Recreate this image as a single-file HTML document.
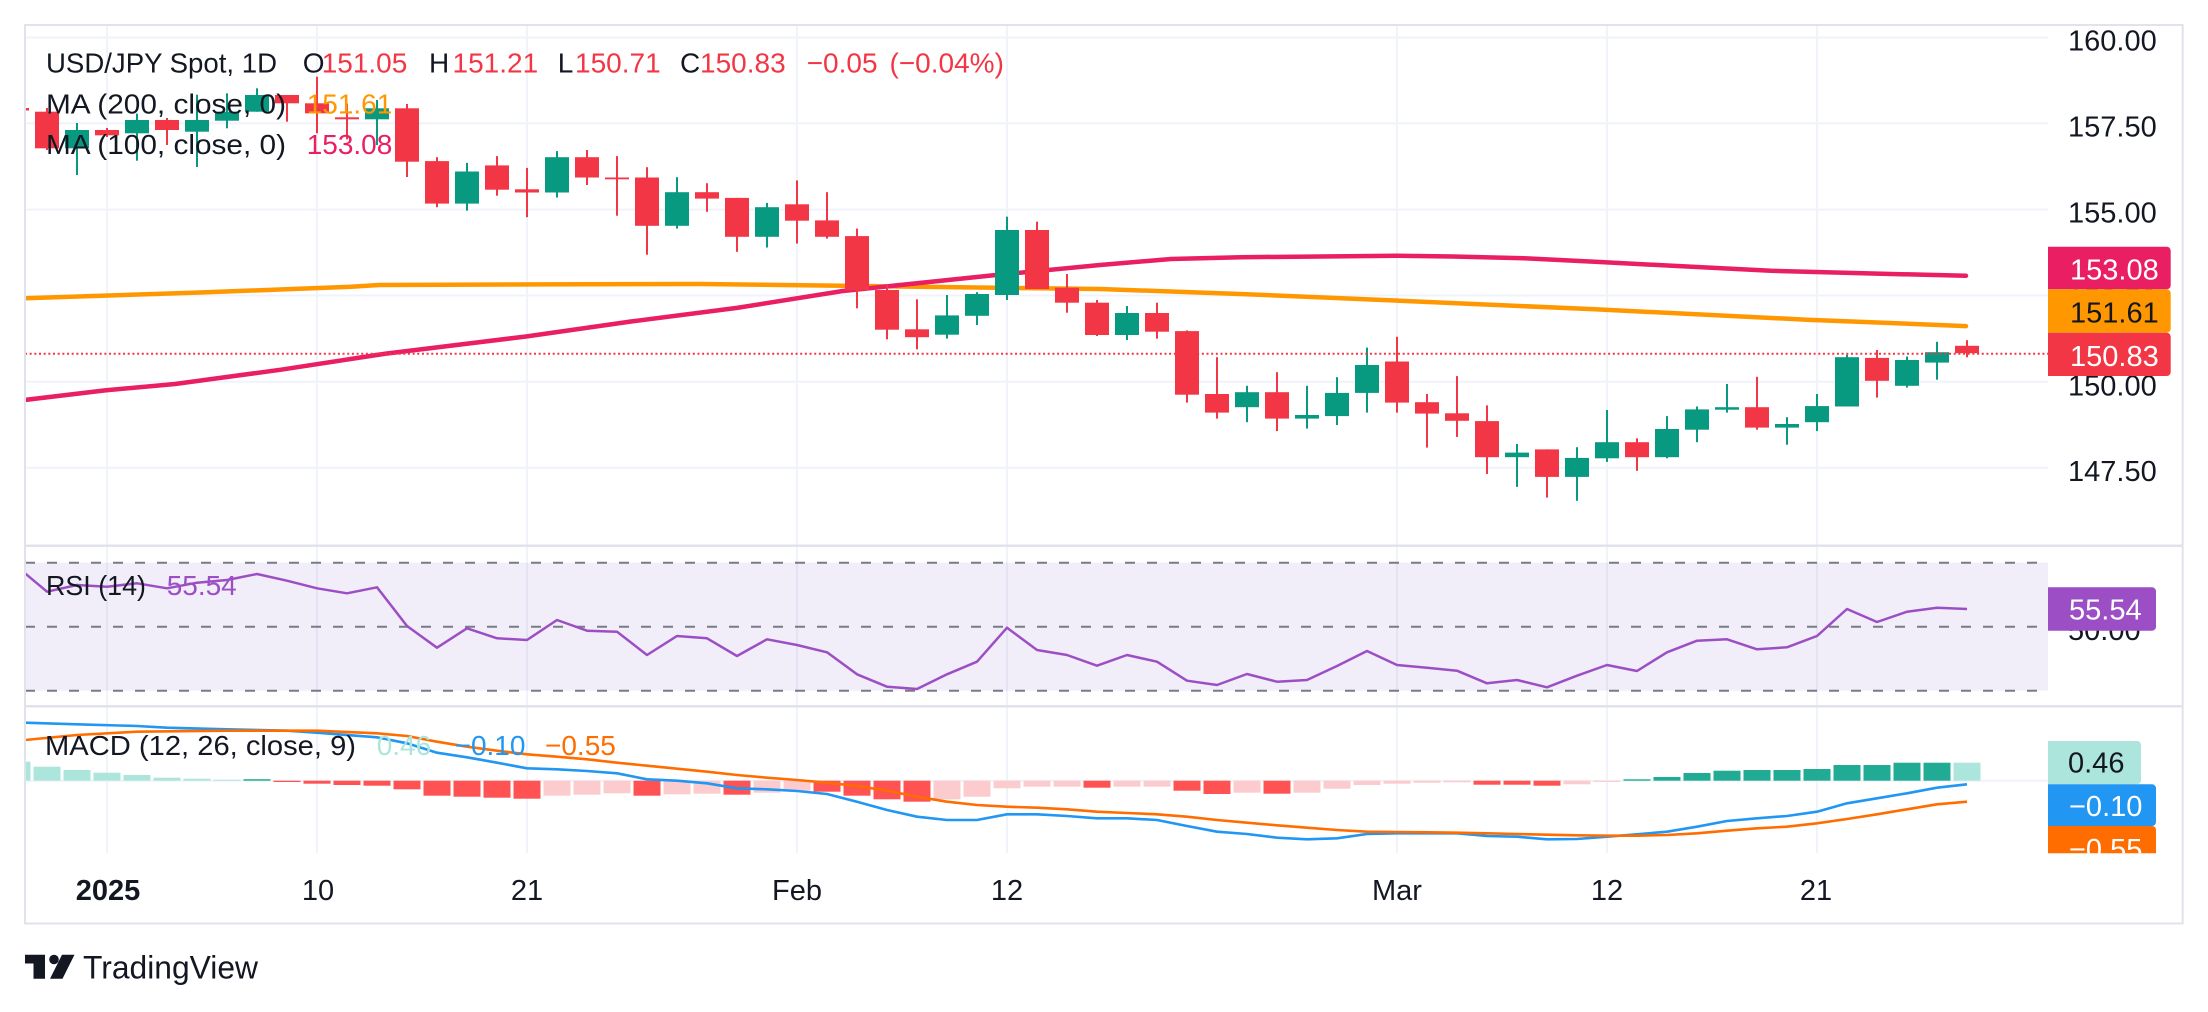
<!DOCTYPE html>
<html>
<head>
<meta charset="utf-8">
<style>
  html,body{margin:0;padding:0;background:#ffffff;}
  svg{display:block;}
  text{font-family:"Liberation Sans",sans-serif;}
</style>
</head>
<body>
<svg width="2208" height="1012" viewBox="0 0 2208 1012" xmlns="http://www.w3.org/2000/svg">
  <defs>
    <clipPath id="mainClip"><rect x="25" y="26" width="2023" height="519"/></clipPath>
    <clipPath id="rsiClip"><rect x="25" y="547" width="2023" height="158"/></clipPath>
    <clipPath id="macdClip"><rect x="25" y="707" width="2023" height="146.3"/></clipPath>
    <clipPath id="macdAxisClip"><rect x="2040" y="707" width="160" height="146.3"/></clipPath>
  </defs>

  <rect x="0" y="0" width="2208" height="1012" fill="#ffffff"/>

  <!-- vertical grid -->
  <g stroke="#f0f3fa" stroke-width="2">
    <line x1="107" y1="26" x2="107" y2="853"/>
    <line x1="317" y1="26" x2="317" y2="853"/>
    <line x1="527" y1="26" x2="527" y2="853"/>
    <line x1="797" y1="26" x2="797" y2="853"/>
    <line x1="1007" y1="26" x2="1007" y2="853"/>
    <line x1="1397" y1="26" x2="1397" y2="853"/>
    <line x1="1607" y1="26" x2="1607" y2="853"/>
    <line x1="1817" y1="26" x2="1817" y2="853"/>
  </g>
  <!-- horizontal grid main -->
  <g stroke="#f0f3fa" stroke-width="2">
    <line x1="25" y1="37.5" x2="2048" y2="37.5"/>
    <line x1="25" y1="123.3" x2="2048" y2="123.3"/>
    <line x1="25" y1="209.6" x2="2048" y2="209.6"/>
    <line x1="25" y1="295.5" x2="2048" y2="295.5"/>
    <line x1="25" y1="381.7" x2="2048" y2="381.7"/>
    <line x1="25" y1="467.8" x2="2048" y2="467.8"/>
    <line x1="25" y1="780.7" x2="2048" y2="780.7"/>
  </g>

  <!-- MAIN PANE -->
  <g clip-path="url(#mainClip)">
    <polyline fill="none" stroke="#ff9800" stroke-width="4.5" stroke-linejoin="round" stroke-linecap="round"
      points="24,298.3 200,292.5 351,286.8 379,285 540,284.4 701,284 842,285.8 1100,289 1240,294 1383,300 1595,309.3 1807,319.7 1966,326.1"/>
    <polyline fill="none" stroke="#e91e63" stroke-width="4.5" stroke-linejoin="round" stroke-linecap="round"
      points="24.5,400 105,390.4 175,384 281,369.7 386,353.6 526,336.5 631,321.5 737,307.9 842,291.1 996,275 1100,265 1171,259 1241,257.2 1397,255.8 1453,256.5 1524,258.3 1595,261.8 1665,265.4 1771,270.8 1877,273.6 1966,275.8"/>

    <!-- green candles -->
    <g fill="#089981">
      <rect x="65" y="130" width="24" height="18.3"/><rect x="76" y="123" width="2" height="52"/>
      <rect x="125" y="120" width="24" height="13.3"/><rect x="136" y="113.6" width="2" height="47.1"/>
      <rect x="185" y="120" width="24" height="11.7"/><rect x="196" y="94.7" width="2" height="72.3"/>
      <rect x="215" y="111.7" width="24" height="9"/><rect x="226" y="93.3" width="2" height="35"/>
      <rect x="245" y="95" width="24" height="16.7"/><rect x="256" y="88.3" width="2" height="23.4"/>
      <rect x="365" y="108.3" width="24" height="11"/><rect x="376" y="100" width="2" height="45"/>
      <rect x="455" y="171.5" width="24" height="32.1"/><rect x="466" y="162.9" width="2" height="47.8"/>
      <rect x="545" y="157.2" width="24" height="35.3"/><rect x="556" y="151.1" width="2" height="46.4"/>
      <rect x="665" y="192.2" width="24" height="33.6"/><rect x="676" y="177.2" width="2" height="51.4"/>
      <rect x="755" y="207.2" width="24" height="29.6"/><rect x="766" y="202.9" width="2" height="44.6"/>
      <rect x="935" y="315.4" width="24" height="19.3"/><rect x="946" y="295" width="2" height="43.6"/>
      <rect x="965" y="294" width="24" height="21.8"/><rect x="976" y="292.2" width="2" height="32.8"/>
      <rect x="995" y="230" width="24" height="65"/><rect x="1006" y="216.7" width="2" height="83.3"/>
      <rect x="1115" y="313" width="24" height="22"/><rect x="1126" y="306" width="2" height="34"/>
      <rect x="1235" y="392.2" width="24" height="15"/><rect x="1246" y="385.8" width="2" height="36.4"/>
      <rect x="1295" y="415" width="24" height="3.6"/><rect x="1306" y="385.8" width="2" height="42.8"/>
      <rect x="1325" y="392.9" width="24" height="23.2"/><rect x="1336" y="377.2" width="2" height="47.8"/>
      <rect x="1355" y="365" width="24" height="27.9"/><rect x="1366" y="347.6" width="2" height="65"/>
      <rect x="1505" y="452.6" width="24" height="4.6"/><rect x="1516" y="444" width="2" height="42.9"/>
      <rect x="1565" y="457.9" width="24" height="19"/><rect x="1576" y="447.2" width="2" height="53.6"/>
      <rect x="1595" y="442.2" width="24" height="16.1"/><rect x="1606" y="410" width="2" height="51.9"/>
      <rect x="1655" y="429" width="24" height="28.2"/><rect x="1666" y="416.1" width="2" height="42.2"/>
      <rect x="1685" y="409.4" width="24" height="20.3"/><rect x="1696" y="406.5" width="2" height="35.7"/>
      <rect x="1715" y="407.2" width="24" height="2.5"/><rect x="1726" y="384" width="2" height="28.6"/>
      <rect x="1775" y="424" width="24" height="3.6"/><rect x="1786" y="417.2" width="2" height="27.5"/>
      <rect x="1805" y="406.1" width="24" height="16.1"/><rect x="1816" y="394" width="2" height="37.1"/>
      <rect x="1835" y="357.2" width="24" height="49.3"/><rect x="1846" y="354.7" width="2" height="51.8"/>
      <rect x="1895" y="360" width="24" height="25.8"/><rect x="1906" y="356.5" width="2" height="31.1"/>
      <rect x="1925" y="352.2" width="24" height="10.4"/><rect x="1936" y="341.8" width="2" height="37.9"/>
    </g>
    <!-- red candles -->
    <g fill="#f23645">
      <rect x="5" y="108" width="24" height="2.5"/>
      <rect x="35" y="111.7" width="24" height="36.6"/><rect x="46" y="108" width="2" height="42"/>
      <rect x="95" y="130" width="24" height="5.3"/><rect x="106" y="128" width="2" height="9"/>
      <rect x="155" y="120" width="24" height="10"/><rect x="166" y="118" width="2" height="27"/>
      <rect x="275" y="95" width="24" height="8.3"/><rect x="286" y="95" width="2" height="26.7"/>
      <rect x="305" y="103.3" width="24" height="10"/><rect x="316" y="76.7" width="2" height="56.6"/>
      <rect x="335" y="117.3" width="24" height="2"/><rect x="346" y="103.6" width="2" height="35.7"/>
      <rect x="395" y="108.3" width="24" height="53.4"/><rect x="406" y="104" width="2" height="73"/>
      <rect x="425" y="161.1" width="24" height="42.5"/><rect x="436" y="157.2" width="2" height="50"/>
      <rect x="485" y="165.4" width="24" height="24.3"/><rect x="496" y="156.1" width="2" height="39.6"/>
      <rect x="515" y="189.3" width="24" height="3.2"/><rect x="526" y="167.9" width="2" height="49.3"/>
      <rect x="575" y="157.2" width="24" height="20.3"/><rect x="586" y="150" width="2" height="35"/>
      <rect x="605" y="177.5" width="24" height="1.8"/><rect x="616" y="156.1" width="2" height="59.6"/>
      <rect x="635" y="177.5" width="24" height="48.3"/><rect x="646" y="167.2" width="2" height="87.5"/>
      <rect x="695" y="192.2" width="24" height="6.4"/><rect x="706" y="183.2" width="2" height="28.6"/>
      <rect x="725" y="197.9" width="24" height="38.9"/><rect x="736" y="197.9" width="2" height="53.9"/>
      <rect x="785" y="204.3" width="24" height="16.4"/><rect x="796" y="180.4" width="2" height="63.2"/>
      <rect x="815" y="220.4" width="24" height="16.4"/><rect x="826" y="192.2" width="2" height="46.4"/>
      <rect x="845" y="236.1" width="24" height="54.3"/><rect x="856" y="228.6" width="2" height="79.7"/>
      <rect x="875" y="290" width="24" height="39.7"/><rect x="886" y="284" width="2" height="55.3"/>
      <rect x="905" y="329.3" width="24" height="7.9"/><rect x="916" y="299.3" width="2" height="50"/>
      <rect x="1025" y="230" width="24" height="59"/><rect x="1036" y="221.7" width="2" height="67.3"/>
      <rect x="1055" y="287.7" width="24" height="15"/><rect x="1066" y="274" width="2" height="38.7"/>
      <rect x="1085" y="302.7" width="24" height="32.3"/><rect x="1096" y="300" width="2" height="36"/>
      <rect x="1145" y="313" width="24" height="18.7"/><rect x="1156" y="302.7" width="2" height="36"/>
      <rect x="1175" y="331.1" width="24" height="63.6"/><rect x="1186" y="330.4" width="2" height="72.2"/>
      <rect x="1205" y="394" width="24" height="18.6"/><rect x="1216" y="357.2" width="2" height="61.4"/>
      <rect x="1265" y="392.2" width="24" height="26.4"/><rect x="1276" y="372.2" width="2" height="58.9"/>
      <rect x="1385" y="361.5" width="24" height="41.1"/><rect x="1396" y="336.8" width="2" height="75.8"/>
      <rect x="1415" y="402.2" width="24" height="11.4"/><rect x="1426" y="394" width="2" height="53.6"/>
      <rect x="1445" y="413.3" width="24" height="7.5"/><rect x="1456" y="376.1" width="2" height="60.8"/>
      <rect x="1475" y="421.1" width="24" height="36.1"/><rect x="1486" y="405.4" width="2" height="68.6"/>
      <rect x="1535" y="449.4" width="24" height="27.5"/><rect x="1546" y="449.4" width="2" height="48.2"/>
      <rect x="1625" y="442.2" width="24" height="15"/><rect x="1636" y="438.3" width="2" height="32.5"/>
      <rect x="1745" y="407.2" width="24" height="20.4"/><rect x="1756" y="376.8" width="2" height="52.9"/>
      <rect x="1865" y="357.9" width="24" height="22.9"/><rect x="1876" y="350" width="2" height="47.6"/>
      <rect x="1955" y="345.8" width="24" height="7.4"/><rect x="1966" y="340.2" width="2" height="17.1"/>
    </g>
    <!-- last price dotted line -->
    <line x1="25" y1="353.8" x2="2048" y2="353.8" stroke="#f23645" stroke-width="2" stroke-dasharray="2 2.67"/>
  </g>

  <!-- RSI PANE -->
  <rect x="25" y="562.7" width="2023" height="128" fill="#7e57c2" fill-opacity="0.1"/>
  <g stroke="#787b86" stroke-width="2" stroke-dasharray="10 12">
    <line x1="25" y1="562.7" x2="2048" y2="562.7"/>
    <line x1="25" y1="626.7" x2="2048" y2="626.7"/>
    <line x1="25" y1="690.7" x2="2048" y2="690.7"/>
  </g>
  <g clip-path="url(#rsiClip)">
    <polyline fill="none" stroke="#9c4fc4" stroke-width="2.5" stroke-linejoin="round"
      points="25,573.3 47,591.7 77,585 107,586.7 137,583.3 167,588.3 197,582.7 227,580 257,574 287,580.7 317,588.3 347,593.3 377,587.3 407,626 437,647.7 467,628.3 497,638.3 527,640 557,620 587,630.7 617,631.7 647,655 677,636 707,638.3 737,656 767,639.3 797,645 827,652.3 857,674.3 887,686.7 917,689 947,674.3 977,661.7 1007,627.7 1037,650 1067,655 1097,665.7 1127,655 1157,661.7 1187,680.7 1217,685 1247,674 1277,681.7 1307,680 1337,666 1367,651 1397,665 1427,667.7 1457,670.7 1487,683.3 1517,680 1547,687.3 1577,675.7 1607,665 1637,671 1667,652.3 1697,640.7 1727,639.3 1757,649.3 1787,647.3 1817,636 1847,609 1877,622 1907,611.7 1937,607.7 1967,609"/>
  </g>

  <!-- MACD PANE -->
  <g clip-path="url(#macdClip)">
    <!-- histogram -->
    <g fill="#ace5dc">
      <rect x="3.5" y="761.7" width="27" height="19"/>
      <rect x="33.5" y="766.7" width="27" height="14"/>
      <rect x="63.5" y="770" width="27" height="10.7"/>
      <rect x="93.5" y="772.7" width="27" height="8"/>
      <rect x="123.5" y="775" width="27" height="5.7"/>
      <rect x="153.5" y="777.7" width="27" height="3"/>
      <rect x="183.5" y="778.7" width="27" height="2"/>
      <rect x="213.5" y="779.7" width="27" height="1"/>
      <rect x="1953.5" y="762.7" width="27" height="18"/>
    </g>
    <g fill="#22ab94">
      <rect x="243.5" y="779.2" width="27" height="1.5"/>
      <rect x="1623.5" y="779.3" width="27" height="1.4"/>
      <rect x="1653.5" y="777" width="27" height="3.7"/>
      <rect x="1683.5" y="773" width="27" height="7.7"/>
      <rect x="1713.5" y="770.7" width="27" height="10"/>
      <rect x="1743.5" y="770" width="27" height="10.7"/>
      <rect x="1773.5" y="770" width="27" height="10.7"/>
      <rect x="1803.5" y="769" width="27" height="11.7"/>
      <rect x="1833.5" y="765" width="27" height="15.7"/>
      <rect x="1863.5" y="765" width="27" height="15.7"/>
      <rect x="1893.5" y="762.7" width="27" height="18"/>
      <rect x="1923.5" y="762.7" width="27" height="18"/>
    </g>
    <g fill="#ff5252">
      <rect x="273.5" y="780.7" width="27" height="1.3"/>
      <rect x="303.5" y="780.7" width="27" height="3"/>
      <rect x="333.5" y="780.7" width="27" height="4.3"/>
      <rect x="363.5" y="780.7" width="27" height="5"/>
      <rect x="393.5" y="780.7" width="27" height="8.6"/>
      <rect x="423.5" y="780.7" width="27" height="15"/>
      <rect x="453.5" y="780.7" width="27" height="16"/>
      <rect x="483.5" y="780.7" width="27" height="17"/>
      <rect x="513.5" y="780.7" width="27" height="18"/>
      <rect x="633.5" y="780.7" width="27" height="15"/>
      <rect x="723.5" y="780.7" width="27" height="14"/>
      <rect x="813.5" y="780.7" width="27" height="11"/>
      <rect x="843.5" y="780.7" width="27" height="15"/>
      <rect x="873.5" y="780.7" width="27" height="18.6"/>
      <rect x="903.5" y="780.7" width="27" height="21"/>
      <rect x="1083.5" y="780.7" width="27" height="7"/>
      <rect x="1173.5" y="780.7" width="27" height="10"/>
      <rect x="1203.5" y="780.7" width="27" height="13.3"/>
      <rect x="1263.5" y="780.7" width="27" height="13"/>
      <rect x="1473.5" y="780.7" width="27" height="4"/>
      <rect x="1503.5" y="780.7" width="27" height="4"/>
      <rect x="1533.5" y="780.7" width="27" height="5"/>
    </g>
    <g fill="#fccbcd">
      <rect x="543.5" y="780.7" width="27" height="15"/>
      <rect x="573.5" y="780.7" width="27" height="14"/>
      <rect x="603.5" y="780.7" width="27" height="12.6"/>
      <rect x="663.5" y="780.7" width="27" height="13.6"/>
      <rect x="693.5" y="780.7" width="27" height="13"/>
      <rect x="753.5" y="780.7" width="27" height="12"/>
      <rect x="783.5" y="780.7" width="27" height="10"/>
      <rect x="933.5" y="780.7" width="27" height="18.6"/>
      <rect x="963.5" y="780.7" width="27" height="16"/>
      <rect x="993.5" y="780.7" width="27" height="7.6"/>
      <rect x="1023.5" y="780.7" width="27" height="6"/>
      <rect x="1053.5" y="780.7" width="27" height="6"/>
      <rect x="1113.5" y="780.7" width="27" height="6"/>
      <rect x="1143.5" y="780.7" width="27" height="6"/>
      <rect x="1233.5" y="780.7" width="27" height="12"/>
      <rect x="1293.5" y="780.7" width="27" height="12"/>
      <rect x="1323.5" y="780.7" width="27" height="8"/>
      <rect x="1353.5" y="780.7" width="27" height="4.3"/>
      <rect x="1383.5" y="780.7" width="27" height="3"/>
      <rect x="1413.5" y="780.7" width="27" height="2"/>
      <rect x="1443.5" y="780.7" width="27" height="1.6"/>
      <rect x="1563.5" y="780.7" width="27" height="3.6"/>
      <rect x="1593.5" y="780.7" width="27" height="1.2"/>
    </g>
    <!-- MACD line -->
    <polyline fill="none" stroke="#2196f3" stroke-width="2.6" stroke-linejoin="round"
      points="25,722.7 77,724.3 137,726 167,727.7 227,729.3 287,730.7 317,732.7 377,737.3 407,743.3 437,752.7 467,757.3 497,762.7 527,768.3 557,769.3 587,771 617,773.3 647,779.3 677,780.7 707,783.3 737,788.3 767,789.3 797,791 827,794 857,801.7 887,810 917,816.7 947,820 977,820 1007,814.3 1037,814.3 1067,816 1097,818.3 1127,818.3 1157,820 1187,826 1217,831.7 1247,834 1277,837.7 1307,839.3 1337,838.3 1367,834 1397,833.3 1427,833.3 1457,833.3 1487,836 1517,836.7 1547,839.3 1577,839 1607,836.7 1637,834.3 1667,831.7 1697,826.7 1727,821 1757,818.3 1787,816 1817,811.7 1847,803.3 1877,798.3 1907,793.3 1937,787.7 1967,784.3"/>
    <!-- Signal line -->
    <polyline fill="none" stroke="#ff6d00" stroke-width="2.6" stroke-linejoin="round"
      points="25,740 77,735 137,731.7 227,730.7 317,730.7 377,733.3 407,736 437,741.7 467,746.7 497,750.7 527,754.3 557,756.7 587,759.3 617,762.7 647,765.7 677,768.7 707,771.7 737,775 767,777.7 797,780 827,782.7 857,786 887,790.7 917,796.7 947,801.7 977,805 1007,806.7 1037,807.7 1067,809.3 1097,811.7 1127,813 1157,814.3 1187,816.7 1217,820 1247,822.7 1277,825.3 1307,827.7 1337,830 1367,831.7 1397,832 1427,832.3 1457,832.7 1487,833.3 1517,834 1547,834.7 1577,835.3 1607,835.7 1637,835.7 1667,835 1697,833.3 1727,830.7 1757,828.3 1787,826.7 1817,823.3 1847,819 1877,814.3 1907,809.3 1937,804.3 1967,801.7"/>
  </g>

  <!-- pane separators and border -->
  <g stroke="#e0e3eb" stroke-width="2.5">
    <line x1="25" y1="545.7" x2="2183" y2="545.7"/>
    <line x1="25" y1="706.3" x2="2183" y2="706.3"/>
  </g>
  <rect x="25" y="25" width="2157.7" height="898.5" fill="none" stroke="#e0e3eb" stroke-width="2"/>

  <!-- legends -->
  <g font-size="28" fill="#131722">
    <text x="46" y="72.7" textLength="231" lengthAdjust="spacingAndGlyphs">USD/JPY Spot, 1D</text>
    <text x="302.7" y="72.7">O</text>
    <text x="321.7" y="72.7" fill="#f23645">151.05</text>
    <text x="429" y="72.7">H</text>
    <text x="452.5" y="72.7" fill="#f23645">151.21</text>
    <text x="557.7" y="72.7">L</text>
    <text x="575" y="72.7" fill="#f23645">150.71</text>
    <text x="680" y="72.7">C</text>
    <text x="700" y="72.7" fill="#f23645">150.83</text>
    <text x="806.7" y="72.7" fill="#f23645">−0.05</text>
    <text x="889.5" y="72.7" fill="#f23645">(−0.04%)</text>

    <text x="46" y="113.3" textLength="240" lengthAdjust="spacingAndGlyphs">MA (200, close, 0)</text>
    <text x="306.7" y="113.3" fill="#ff9800">151.61</text>
    <text x="46" y="154" textLength="240" lengthAdjust="spacingAndGlyphs">MA (100, close, 0)</text>
    <text x="306.7" y="154" fill="#e91e63">153.08</text>

    <text x="46" y="595" textLength="100" lengthAdjust="spacingAndGlyphs">RSI (14)</text>
    <text x="166.7" y="595" fill="#9c4fc4">55.54</text>

    <text x="45" y="755" textLength="311" lengthAdjust="spacingAndGlyphs">MACD (12, 26, close, 9)</text>
    <text x="376.7" y="755" fill="#ace5dc">0.46</text>
    <text x="454.6" y="755" fill="#2196f3">−0.10</text>
    <text x="545" y="755" fill="#ff6d00">−0.55</text>
  </g>

  <!-- price axis labels -->
  <g font-size="29" fill="#131722">
    <text x="2068" y="50.5">160.00</text>
    <text x="2068" y="136.3">157.50</text>
    <text x="2068" y="222.6">155.00</text>
    <text x="2068" y="308.5">152.50</text>
    <text x="2068" y="395.5">150.00</text>
    <text x="2068" y="480.8">147.50</text>
    <text x="2068" y="640">50.00</text>
  </g>

  <!-- price badges -->
  <g font-size="29">
    <path d="M2048,246.7 H2166.7 A4,4 0 0 1 2170.7,250.7 V285.3 A4,4 0 0 1 2166.7,289.3 H2048 Z" fill="#e91e63"/>
    <text x="2070" y="279.3" fill="#ffffff">153.08</text>
    <path d="M2048,289.3 H2166.7 A4,4 0 0 1 2170.7,293.3 V328.7 A4,4 0 0 1 2166.7,332.7 H2048 Z" fill="#ff9800"/>
    <text x="2070" y="322.7" fill="#131722">151.61</text>
    <path d="M2048,332.7 H2166.7 A4,4 0 0 1 2170.7,336.7 V372 A4,4 0 0 1 2166.7,376 H2048 Z" fill="#f23645"/>
    <text x="2070" y="366" fill="#ffffff">150.83</text>

    <path d="M2048,587.3 H2152 A4,4 0 0 1 2156,591.3 V626.7 A4,4 0 0 1 2152,630.7 H2048 Z" fill="#9c4fc4"/>
    <text x="2069" y="619.3" fill="#ffffff">55.54</text>

    <path d="M2048,741 H2137 A4,4 0 0 1 2141,745 V780.3 A4,4 0 0 1 2137,784.3 H2048 Z" fill="#ace5dc"/>
    <text x="2068" y="772.7" fill="#131722">0.46</text>
    <path d="M2048,784.3 H2152 A4,4 0 0 1 2156,788.3 V822 A4,4 0 0 1 2152,826 H2048 Z" fill="#2196f3"/>
    <text x="2069" y="816" fill="#ffffff">−0.10</text>
    <g clip-path="url(#macdAxisClip)">
      <path d="M2048,826 H2152 A4,4 0 0 1 2156,830 V864 A4,4 0 0 1 2152,868 H2048 Z" fill="#ff6d00"/>
      <text x="2069" y="859" fill="#ffffff">−0.55</text>
    </g>
  </g>

  <!-- time axis labels -->
  <g font-size="29" fill="#131722" text-anchor="middle">
    <text x="108" y="900" font-weight="bold">2025</text>
    <text x="318" y="900">10</text>
    <text x="527" y="900">21</text>
    <text x="797" y="900">Feb</text>
    <text x="1007" y="900">12</text>
    <text x="1397" y="900">Mar</text>
    <text x="1607" y="900">12</text>
    <text x="1816" y="900">21</text>
  </g>

  <!-- TradingView logo -->
  <g fill="#131722">
    <path d="M25,954.7 H45 V978.7 H33.5 V963.5 H25 Z"/>
    <circle cx="54" cy="959.5" r="4.8"/>
    <path d="M62,954.7 H74.5 L62.5,978.7 H50 Z"/>
    <text x="83" y="978.7" font-size="32" textLength="175" lengthAdjust="spacingAndGlyphs">TradingView</text>
  </g>
</svg>
</body>
</html>
